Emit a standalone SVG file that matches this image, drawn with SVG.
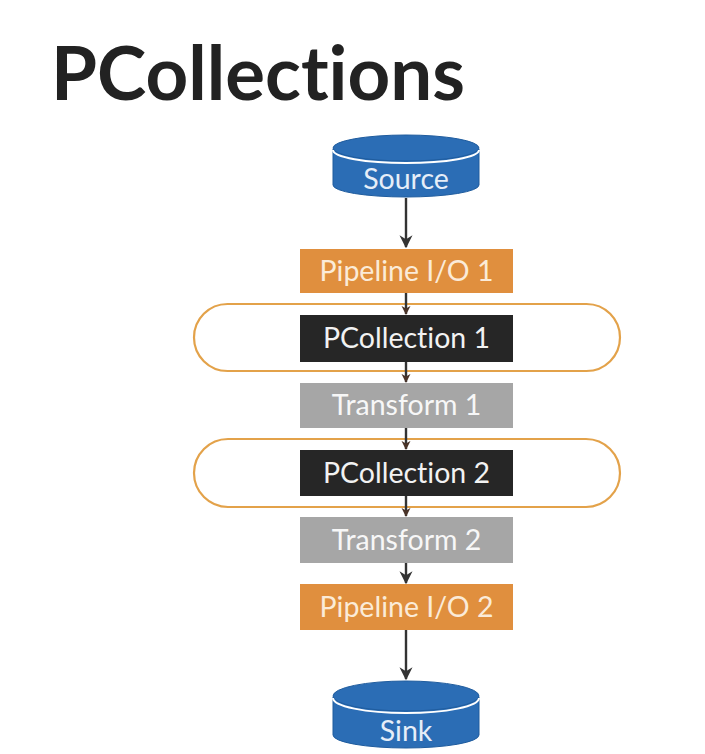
<svg xmlns="http://www.w3.org/2000/svg" width="705" height="754" viewBox="0 0 705 754">
<style>
text{font-variant-ligatures:none}
.t{font-family:Lato,"Open Sans","Liberation Sans",sans-serif;font-size:28.5px;text-anchor:middle}
.io{fill:#E08F3E}
.pc{fill:#262626}
.tr{fill:#A6A6A6}
.ring{fill:none;stroke:#E3A24A;stroke-width:2.2}
.cyl{fill:#2B6DB5;stroke:#1F5C9E;stroke-width:1}
.edge{stroke:#333;stroke-width:2.4;fill:none}
</style>
<defs>
<marker id="ah" viewBox="0 0 10 10" refX="9" refY="5" markerWidth="13" markerHeight="14" markerUnits="userSpaceOnUse" orient="auto">
<path d="M0,0 L10,5 L0,10 L3,5 z" fill="#333"/>
</marker>
<marker id="ahs" viewBox="0 0 10 10" refX="9" refY="5" markerWidth="9" markerHeight="11" markerUnits="userSpaceOnUse" orient="auto">
<path d="M0,0 L10,5 L0,10 L3,5 z" fill="#4a3328"/>
</marker>
</defs>
<rect width="705" height="754" fill="#fff"/>
<text x="51" y="100" font-family="Lato,'Open Sans','Liberation Sans',sans-serif" font-weight="bold" font-size="74" fill="#222" textLength="414" lengthAdjust="spacingAndGlyphs">PCollections</text>

<g id="rings">
<rect id="pcoll1-ring" class="ring" x="194" y="304" width="426" height="67" rx="33.5"/>
<rect id="pcoll2-ring" class="ring" x="194" y="439" width="426" height="68" rx="34"/>
</g>

<g id="connectors">
<line class="edge" x1="406" y1="198" x2="406" y2="247" marker-end="url(#ah)"/>
<line class="edge" x1="406" y1="293" x2="406" y2="314" marker-end="url(#ahs)"/>
<line class="edge" x1="406" y1="362" x2="406" y2="382" marker-end="url(#ahs)"/>
<line class="edge" x1="406" y1="428" x2="406" y2="449" marker-end="url(#ahs)"/>
<line class="edge" x1="406" y1="496" x2="406" y2="516" marker-end="url(#ahs)"/>
<line class="edge" x1="406" y1="563" x2="406" y2="583" marker-end="url(#ah)"/>
<line class="edge" x1="406" y1="630" x2="406" y2="679" marker-end="url(#ah)"/>
</g>

<g id="source">
<path class="cyl" d="M333,149 L333,185 A73,12 0 0 0 479,185 L479,149 Z"/>
<ellipse class="cyl" cx="406" cy="148" rx="73" ry="13"/>
<path d="M333,150 A73,13 0 0 0 479,150" fill="none" stroke="#fff" stroke-width="2"/>
<text class="t" x="406" y="189" fill="#E6EEF8">Source</text>
</g>

<g id="pipeline-io-1">
<rect class="io" x="300" y="249" width="213" height="44"/>
<text class="t" x="406.5" y="281" fill="#FBEBD8">Pipeline I/O 1</text>
</g>

<g id="pcollection-1">
<rect class="pc" x="300" y="315" width="213" height="47"/>
<text class="t" x="406.5" y="348" fill="#F2F2F2">PCollection 1</text>
</g>

<g id="transform-1">
<rect class="tr" x="300" y="383" width="213" height="45"/>
<text class="t" x="406.5" y="415" fill="#F7F7F7">Transform 1</text>
</g>

<g id="pcollection-2">
<rect class="pc" x="300" y="450" width="213" height="46"/>
<text class="t" x="406.5" y="483" fill="#F2F2F2">PCollection 2</text>
</g>

<g id="transform-2">
<rect class="tr" x="300" y="517" width="213" height="46"/>
<text class="t" x="406.5" y="550" fill="#F7F7F7">Transform 2</text>
</g>

<g id="pipeline-io-2">
<rect class="io" x="300" y="584" width="213" height="46"/>
<text class="t" x="406.5" y="617" fill="#FBEBD8">Pipeline I/O 2</text>
</g>

<g id="sink">
<path class="cyl" d="M333,697 L333,735 A73,13 0 0 0 479,735 L479,697 Z"/>
<ellipse class="cyl" cx="406" cy="696" rx="73" ry="15"/>
<path d="M333,698 A73,15 0 0 0 479,698" fill="none" stroke="#fff" stroke-width="2"/>
<text class="t" x="406" y="741" fill="#E6EEF8">Sink</text>
</g>
</svg>
